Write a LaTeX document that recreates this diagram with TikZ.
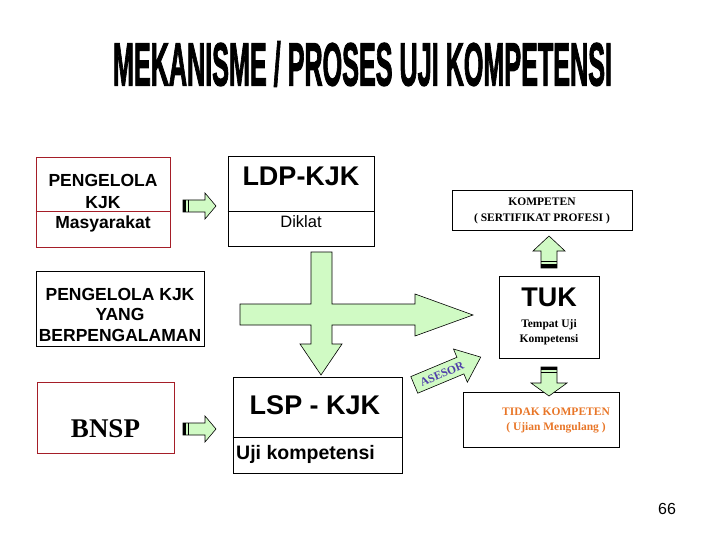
\documentclass[tikz,border=0pt]{standalone}
\usepackage{fontspec}
\usepackage{graphicx}
\setmainfont{Liberation Serif}
\setsansfont{Liberation Sans}
\newfontfamily\titlefont[FakeBold=2.5]{Liberation Sans Bold}
\usetikzlibrary{positioning}
\definecolor{arrowgreen}{RGB}{208,250,196}
\definecolor{boxred}{RGB}{165,30,40}
\definecolor{tidakorange}{RGB}{232,118,40}
\definecolor{asesorblue}{RGB}{80,64,170}
\tikzset{
  plainbox/.style={draw=black, line width=0.8pt, inner sep=0pt},
  redbox/.style={draw=boxred, line width=0.8pt, inner sep=0pt},
  blockarrow/.style={draw=black, line width=0.6pt, fill=arrowgreen, line join=miter},
  sanslabel/.style={anchor=base, font=\sffamily\bfseries\fontsize{17.5}{19}\selectfont},
  biglabel/.style={anchor=base, font=\sffamily\bfseries\fontsize{27}{30}\selectfont},
  seriflabel/.style={anchor=base, font=\rmfamily\bfseries\fontsize{11.5}{14}\selectfont},
}

\begin{document}
\begin{tikzpicture}[x=1pt, y=-1pt]
      \useasboundingbox (0,0) rectangle (720,540);
      % title
      \node (title) at (362.5,64) {\resizebox{499pt}{44pt}{\titlefont MEKANISME / PROSES UJI KOMPETENSI}};

      % boxes
      \node[redbox, minimum width=134pt, minimum height=90pt] (masyarakat) at (103,202) {};
      \node[plainbox, minimum width=146pt, minimum height=90pt] (ldp) at (301,201) {};
      \node[plainbox, minimum width=180pt, minimum height=40pt] (kompeten) at (542,210) {};
      \node[plainbox, minimum width=168pt, minimum height=75pt] (pengalaman) at (120,308.5) {};
      \node[plainbox, minimum width=100pt, minimum height=82pt] (tuk) at (549,317) {};
      \node[plainbox, minimum width=156pt, minimum height=55pt] (tidak) at (541,419.5) {};
      \node[plainbox, minimum width=169pt, minimum height=96pt] (lsp) at (317.5,425) {};
      \node[redbox, minimum width=137pt, minimum height=71pt] (bnsp) at (105.5,417.5) {};
      \draw[boxred, line width=0.8pt] (masyarakat.west |- 0,211) -- (masyarakat.east |- 0,211);
      \draw[line width=0.8pt] (ldp.west |- 0,211) -- (ldp.east |- 0,211);
      \draw[line width=0.8pt] (lsp.west |- 0,437) -- (lsp.east |- 0,437);

      % texts
      \node[sanslabel] (t1) at (103,187) {PENGELOLA};
      \node[sanslabel] (t2) at (103,209) {KJK};
      \node[sanslabel] (t3) at (103,229) {Masyarakat};
      \node[biglabel] (t4) at (301,186) {LDP-KJK};
      \node[anchor=base, font=\sffamily\fontsize{16.5}{18}\selectfont] (t5) at (301,227) {Diklat};
      \node[seriflabel] (t6) at (542,206) {KOMPETEN};
      \node[seriflabel] (t7) at (542,222) {( SERTIFIKAT PROFESI )};
      \node[sanslabel] (t8) at (120,300) {PENGELOLA KJK};
      \node[sanslabel] (t9) at (120,320) {YANG};
      \node[sanslabel] (t10) at (120,341) {BERPENGALAMAN};
      \node[biglabel] (t11) at (549,306) {TUK};
      \node[seriflabel] (t12) at (549,327) {Tempat Uji};
      \node[seriflabel] (t13) at (549,342) {Kompetensi};
      \node[seriflabel, text=tidakorange] (t14) at (556,415) {TIDAK KOMPETEN};
      \node[seriflabel, text=tidakorange] (t15) at (556,430) {( Ujian Mengulang )};
      \node[biglabel] (t16) at (315,414) {LSP - KJK};
      \node[anchor=base west, inner sep=0pt, font=\sffamily\bfseries\fontsize{19.5}{21}\selectfont] (t17) at (236,459) {Uji kompetensi};
      \node[anchor=base, font=\rmfamily\bfseries\fontsize{27}{30}\selectfont] (t18) at (105.5,437) {BNSP};
      \node[anchor=base, font=\sffamily\fontsize{16}{18}\selectfont] (page) at (667,514) {66};

      % small arrows
      \foreach \yy in {206,429} {
        \draw[blockarrow] (183,\yy-6) -- (205,\yy-6) -- (205,\yy-13) -- (216,\yy) -- (205,\yy+13)
          -- (205,\yy+6) -- (183,\yy+6) -- cycle;
        \fill (183,\yy-6) rectangle (186,\yy+6);
        \draw[line width=1pt] (188.5,\yy-6) -- (188.5,\yy+6);
      }

      % cross arrow
      \draw[blockarrow] (311,252) -- (332,252) -- (332,304) -- (415,304) -- (415,294) -- (473,315)
        -- (415,336) -- (415,325) -- (332,325) -- (332,344) -- (342,344) -- (321,375) -- (300,344)
        -- (311,344) -- (311,325) -- (240,325) -- (240,304) -- (311,304) -- cycle;

      % up arrow (TUK -> KOMPETEN)
      \draw[blockarrow] (541,268) -- (541,251) -- (533,251) -- (549,236) -- (565,251) -- (557,251)
        -- (557,268) -- cycle;
      \fill (541,264) rectangle (557,268);
      \draw[line width=1pt] (541,261) -- (557,261);

      % down arrow (TUK -> TIDAK KOMPETEN)
      \draw[blockarrow] (541,367) -- (557,367) -- (557,383) -- (567,383) -- (549,396) -- (531,383)
        -- (541,383) -- cycle;
      \fill (541,367) rectangle (557,370);
      \draw[line width=1pt] (541,372.5) -- (557,372.5);

      % asesor arrow
      \begin{scope}[shift={(447.5,371)}, rotate=22.7]
        \draw[blockarrow] (-36,-9) -- (14,-9) -- (14,-18) -- (36,0) -- (14,18) -- (14,9) -- (-36,9) -- cycle;
      \end{scope}
      \node[rotate=22.7, inner sep=0pt, text=asesorblue, font=\rmfamily\bfseries\fontsize{11.5}{13}\selectfont] (asesor) at (442,374) {ASESOR};
    \end{tikzpicture}
\end{document}
